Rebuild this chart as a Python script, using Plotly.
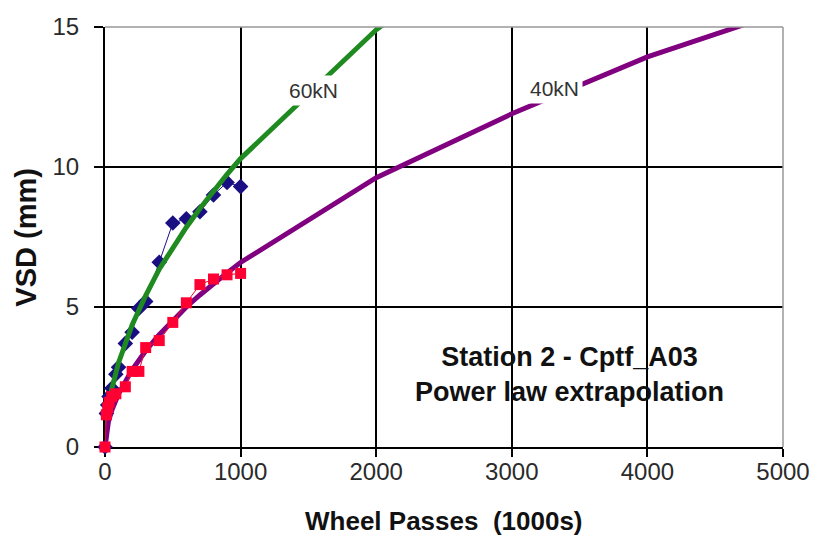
import plotly.graph_objects as go

x60 = [0, 10, 20, 30, 50, 80, 100, 150, 200, 250, 300, 400, 500, 600, 700, 800, 900, 1000]
y60 = [0, 1.2, 1.5, 1.8, 2.1, 2.6, 2.85, 3.7, 4.1, 4.95, 5.2, 6.6, 8.0, 8.15, 8.4, 9.0, 9.45, 9.3]

x40 = [0, 10, 20, 30, 50, 80, 150, 200, 250, 300, 400, 500, 600, 700, 800, 900, 1000]
y40 = [0, 1.15, 1.4, 1.6, 1.8, 1.9, 2.15, 2.7, 2.7, 3.55, 3.8, 4.45, 5.15, 5.8, 6.0, 6.15, 6.2]

# Power-law extrapolation curves
xfit = [0, 10, 25, 50, 100, 200, 300, 400, 500, 600, 700, 800, 900, 1000, 2000, 3000, 4000, 5000]
yfit60 = [0, 0.88, 1.43, 2.08, 3.01, 4.36, 5.41, 6.35, 7.12, 7.85, 8.52, 9.15, 9.74, 10.3, 14.9, 18.5, 21.6, 24.3]
yfit40 = [0, 0.55, 0.90, 1.31, 1.90, 2.76, 3.44, 4.01, 4.53, 5.0, 5.43, 5.84, 6.22, 6.59, 9.62, 11.9, 13.93, 15.55]

x_ticks = [0, 1000, 2000, 3000, 4000, 5000]
y_ticks = [0, 5, 10, 15]

FONT = "Liberation Sans, Arial, sans-serif"

fig = go.Figure()
fig.add_trace(go.Scatter(x=x60, y=y60, mode="lines+markers",
                         line=dict(color="#1a0f82", width=1),
                         marker=dict(symbol="diamond", size=12, color="#1a0f82"),
                         cliponaxis=False, showlegend=False))
fig.add_trace(go.Scatter(x=xfit, y=yfit60, mode="lines",
                         line=dict(color="#1f8a1f", width=5), showlegend=False))
fig.add_trace(go.Scatter(x=xfit, y=yfit40, mode="lines",
                         line=dict(color="#800080", width=5), showlegend=False))
fig.add_trace(go.Scatter(x=x40, y=y40, mode="lines+markers",
                         line=dict(color="#ff0033", width=1),
                         marker=dict(symbol="square", size=11, color="#ff0033"),
                         cliponaxis=False, showlegend=False))

tickfont = dict(family=FONT, size=24, color="#2a2a2a")

fig.update_layout(
    width=822, height=538,
    margin=dict(l=105, r=33, t=27, b=91),
    paper_bgcolor="white", plot_bgcolor="white",
    xaxis=dict(range=[0, 5000], tickvals=x_ticks, showgrid=True, gridcolor="black",
               gridwidth=1.5, showline=True, linecolor="black", linewidth=2,
               ticks="outside", ticklen=8, tickcolor="black", tickwidth=1.5,
               ticklabelstandoff=-6, tickfont=tickfont, zeroline=False,
               layer="below traces"),
    yaxis=dict(range=[0, 15], tickvals=y_ticks, showgrid=True, gridcolor="black",
               gridwidth=1.5, showline=True, linecolor="black", linewidth=2,
               ticks="outside", ticklen=9, tickcolor="black", tickwidth=1.5,
               ticklabelstandoff=10, tickfont=tickfont, zeroline=False,
               layer="below traces"),
)

# Gray frame on top and right
fig.add_shape(type="line", xref="paper", yref="paper", x0=0, x1=1, y0=1, y1=1,
              line=dict(color="#999999", width=1.5), layer="above")
fig.add_shape(type="line", xref="paper", yref="paper", x0=1, x1=1, y0=0, y1=1,
              line=dict(color="#999999", width=1.5), layer="above")

# Axis titles
fig.add_annotation(xref="paper", yref="paper", x=0.5, y=-0.175, yanchor="middle",
                   text="<b>Wheel Passes  (1000s)</b>", showarrow=False,
                   font=dict(family=FONT, size=26, color="#111111"))
fig.add_annotation(xref="paper", yref="paper", x=-0.117, y=0.5, xanchor="center",
                   yanchor="middle", textangle=-90,
                   text="<b>VSD (mm)</b>", showarrow=False,
                   font=dict(family=FONT, size=29, color="#111111"))

fig.add_annotation(x=1534, y=12.75, text="60kN", showarrow=False,
                   font=dict(family=FONT, size=21, color="#333333"),
                   bgcolor="white", borderpad=3)
fig.add_annotation(x=3316, y=12.8, text="40kN", showarrow=False,
                   font=dict(family=FONT, size=21, color="#333333"),
                   bgcolor="white", borderpad=3)
fig.add_annotation(x=3426, y=2.58, text="<b>Station 2 - Cptf_A03<br>Power law extrapolation</b>",
                   showarrow=False, align="center",
                   font=dict(family=FONT, size=27, color="#111111"))

fig.write_html("out.html")
